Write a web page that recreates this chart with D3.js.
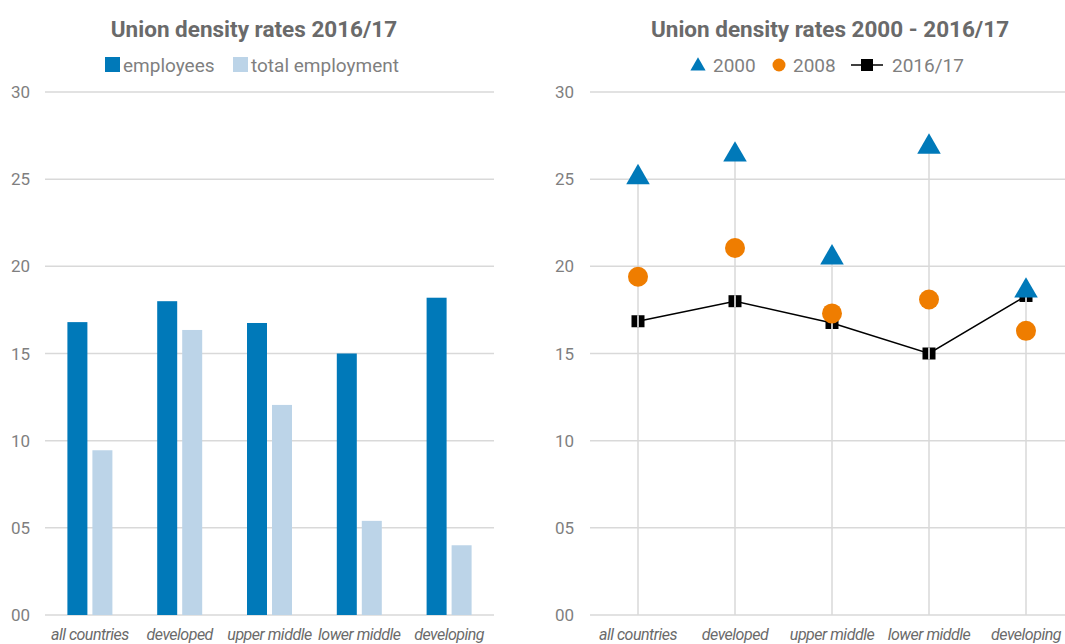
<!DOCTYPE html>
<html>
<head>
<meta charset="utf-8">
<script src="https://cdn.jsdelivr.net/npm/d3@7"></script>
<style>
  body { margin: 0; background: #fff; }
  svg { font-family: Roboto, "DejaVu Sans", sans-serif; }
</style>
</head>
<body>
<svg id="chart" width="1065" height="644"></svg>
<script>
// data
var categories = ["all countries", "developed", "upper middle", "lower middle", "developing"];
var employees = [16.8, 18.0, 16.75, 15.0, 18.2];
var totalEmployment = [9.45, 16.35, 12.05, 5.4, 4.0];
var y2000 = [25.1, 26.4, 20.5, 26.85, 18.6];
var y2008 = [19.4, 21.05, 17.3, 18.1, 16.3];
var y2016 = [16.85, 18.0, 16.75, 15.0, 18.3];
var yTicks = [0, 5, 10, 15, 20, 25, 30];

var darkBlue = "#0079b9", lightBlue = "#bcd4e8", orange = "#ef7d00";
var gridColor = "#d9d9d9", titleColor = "#6a6a6a", labelColor = "#7f7f7f";

var svg = d3.select("#chart");
var fmt = d3.format("02d");

var y = d3.scaleLinear().domain([0, 30]).range([615, 92]);

// ---------- left chart: grouped bars ----------
var x1 = d3.scaleBand().domain(categories).range([45, 494]);
var left = svg.append("g");

left.selectAll("line.grid").data(yTicks).enter().append("line")
  .attr("class", "grid")
  .attr("x1", 45).attr("x2", 494)
  .attr("y1", function(d) { return y(d); }).attr("y2", function(d) { return y(d); })
  .attr("stroke", gridColor).attr("stroke-width", 1.5);

left.selectAll("text.ytick").data(yTicks).enter().append("text")
  .attr("class", "ytick")
  .attr("x", 30).attr("y", function(d) { return y(d) + 6; })
  .attr("text-anchor", "end")
  .attr("font-size", 17).attr("fill", labelColor)
  .text(function(d) { return fmt(d); });

var barW = 20, gap = 5;
left.selectAll("rect.emp").data(employees).enter().append("rect")
  .attr("class", "emp")
  .attr("x", function(d, i) { return x1(categories[i]) + x1.bandwidth() / 2 - gap / 2 - barW; })
  .attr("width", barW)
  .attr("y", function(d) { return y(d); })
  .attr("height", function(d) { return y(0) - y(d); })
  .attr("fill", darkBlue);

left.selectAll("rect.tot").data(totalEmployment).enter().append("rect")
  .attr("class", "tot")
  .attr("x", function(d, i) { return x1(categories[i]) + x1.bandwidth() / 2 + gap / 2; })
  .attr("width", barW)
  .attr("y", function(d) { return y(d); })
  .attr("height", function(d) { return y(0) - y(d); })
  .attr("fill", lightBlue);

left.selectAll("text.cat").data(categories).enter().append("text")
  .attr("class", "cat")
  .attr("x", function(d) { return x1(d) + x1.bandwidth() / 2; })
  .attr("y", 640)
  .attr("text-anchor", "middle")
  .attr("font-size", 16).attr("letter-spacing", -0.5).attr("font-style", "italic").attr("fill", titleColor)
  .text(function(d) { return d; });

left.append("text")
  .attr("x", 254).attr("y", 37)
  .attr("text-anchor", "middle")
  .attr("font-size", 22.5).attr("font-weight", "bold").attr("fill", titleColor)
  .text("Union density rates 2016/17");

var lg1 = left.append("g");
lg1.append("rect").attr("x", 105).attr("y", 57).attr("width", 15).attr("height", 15).attr("fill", darkBlue);
lg1.append("text").attr("x", 123).attr("y", 72).attr("font-size", 19).attr("fill", labelColor).text("employees");
lg1.append("rect").attr("x", 233).attr("y", 57).attr("width", 15).attr("height", 15).attr("fill", lightBlue);
lg1.append("text").attr("x", 251).attr("y", 72).attr("font-size", 19).attr("fill", labelColor).text("total employment");

// ---------- right chart: markers ----------
var x2 = d3.scalePoint().domain(categories).range([638, 1026]);
var right = svg.append("g");

right.selectAll("line.grid").data(yTicks).enter().append("line")
  .attr("class", "grid")
  .attr("x1", 590).attr("x2", 1065)
  .attr("y1", function(d) { return y(d); }).attr("y2", function(d) { return y(d); })
  .attr("stroke", gridColor).attr("stroke-width", 1.5);

right.selectAll("text.ytick").data(yTicks).enter().append("text")
  .attr("class", "ytick")
  .attr("x", 574).attr("y", function(d) { return y(d) + 6; })
  .attr("text-anchor", "end")
  .attr("font-size", 17).attr("fill", labelColor)
  .text(function(d) { return fmt(d); });

// drop lines from the highest point to the axis
right.selectAll("line.drop").data(categories).enter().append("line")
  .attr("class", "drop")
  .attr("x1", function(d) { return x2(d); }).attr("x2", function(d) { return x2(d); })
  .attr("y1", function(d, i) { return y(Math.max(y2000[i], y2008[i], y2016[i])); })
  .attr("y2", y(0))
  .attr("stroke", gridColor).attr("stroke-width", 1.5);

var line = d3.line()
  .x(function(d, i) { return x2(categories[i]); })
  .y(function(d) { return y(d); });

right.append("path").datum(y2016)
  .attr("d", line).attr("fill", "none").attr("stroke", "#000").attr("stroke-width", 1.5);

function square(g, cx, cy) {
  g.append("rect").attr("x", cx - 6.5).attr("y", cy - 6).attr("width", 13).attr("height", 12).attr("fill", "#000");
  g.append("line").attr("x1", cx).attr("x2", cx).attr("y1", cy - 6).attr("y2", cy + 6)
    .attr("stroke", "#fff").attr("stroke-width", 1.5);
}
y2016.forEach(function(d, i) { square(right, x2(categories[i]), y(d)); });

right.selectAll("circle.p08").data(y2008).enter().append("circle")
  .attr("class", "p08")
  .attr("cx", function(d, i) { return x2(categories[i]); })
  .attr("cy", function(d) { return y(d); })
  .attr("r", 10).attr("fill", orange);

var tri = d3.symbol().type(d3.symbolTriangle).size(240);
right.selectAll("path.p00").data(y2000).enter().append("path")
  .attr("class", "p00")
  .attr("d", tri)
  .attr("transform", function(d, i) { return "translate(" + x2(categories[i]) + "," + y(d) + ")"; })
  .attr("fill", darkBlue);

right.selectAll("text.cat").data(categories).enter().append("text")
  .attr("class", "cat")
  .attr("x", function(d) { return x2(d); })
  .attr("y", 640)
  .attr("text-anchor", "middle")
  .attr("font-size", 16).attr("letter-spacing", -0.5).attr("font-style", "italic").attr("fill", titleColor)
  .text(function(d) { return d; });

right.append("text")
  .attr("x", 830).attr("y", 37)
  .attr("text-anchor", "middle")
  .attr("font-size", 22.5).attr("font-weight", "bold").attr("fill", titleColor)
  .text("Union density rates 2000 - 2016/17");

var lg2 = right.append("g");
lg2.append("path").attr("d", d3.symbol().type(d3.symbolTriangle).size(100))
  .attr("transform", "translate(698,66)").attr("fill", darkBlue);
lg2.append("text").attr("x", 713).attr("y", 72).attr("font-size", 19).attr("fill", labelColor).text("2000");
lg2.append("circle").attr("cx", 779).attr("cy", 65).attr("r", 6.5).attr("fill", orange);
lg2.append("text").attr("x", 793).attr("y", 72).attr("font-size", 19).attr("fill", labelColor).text("2008");
lg2.append("line").attr("x1", 851).attr("x2", 883).attr("y1", 65).attr("y2", 65).attr("stroke", "#000").attr("stroke-width", 1.5);
lg2.append("rect").attr("x", 861).attr("y", 59).attr("width", 12).attr("height", 12).attr("fill", "#000");
lg2.append("text").attr("x", 892).attr("y", 72).attr("font-size", 19).attr("fill", labelColor).text("2016/17");
</script>
</body>
</html>
